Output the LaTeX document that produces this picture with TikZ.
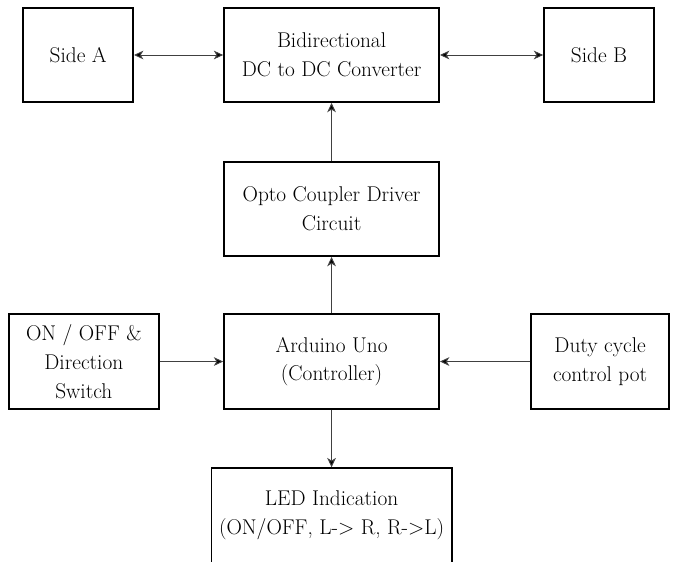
\documentclass[tikz,border=0pt]{standalone}
\usepackage{fontspec}
\usetikzlibrary{arrows.meta}

\begin{document}
\begin{tikzpicture}
\tikzset{boite/.style={draw, line width=1.3pt, minimum height=2.48cm, inner sep=0pt, align=center, font=\fontsize{16}{21.5}\selectfont}}
\tikzset{pointe/.tip={Stealth[length=7pt, width=6.5pt, inset=2pt, fill=black]}}
\tikzset{fleche/.style={draw=black!75, line width=0.7pt, -pointe}}
\useasboundingbox (0, 0) rectangle (17.74, -14.79);
\clip (0, 0) rectangle (17.74, -14.79);
\node[boite, minimum width=2.90cm] (SA) at (2.06, -1.45) {Side A};
\node[boite, minimum width=5.67cm] (BC) at (8.74, -1.45) {Bidirectional\\DC to DC Converter};
\node[boite, minimum width=2.90cm] (SB) at (15.79, -1.45) {Side B};
\node[boite, minimum width=5.67cm] (OC) at (8.74, -5.51) {Opto Coupler Driver\\Circuit};
\node[boite, minimum width=5.67cm, minimum height=2.50cm] (AU) at (8.74, -9.53) {Arduino Uno\\(Controller)};
\node[boite, minimum width=3.96cm, minimum height=2.50cm] (SW) at (2.21, -9.53) {ON / OFF \&\\Direction\\Switch};
\node[boite, minimum width=3.64cm, minimum height=2.50cm] (DC) at (15.82, -9.53) {Duty cycle\\control pot};
\node[boite, minimum width=6.33cm, minimum height=2.50cm] (LED) at (8.74, -13.59) {LED Indication\\(ON/OFF, L-> R, R->L)};
\draw[fleche, pointe-pointe] (SA) -- (BC);
\draw[fleche, pointe-pointe] (BC) -- (SB);
\draw[fleche] (OC) -- (BC);
\draw[fleche] (AU) -- (OC);
\draw[fleche] (SW) -- (AU);
\draw[fleche] (DC) -- (AU);
\draw[fleche] (AU) -- (LED);
\end{tikzpicture}
\end{document}
